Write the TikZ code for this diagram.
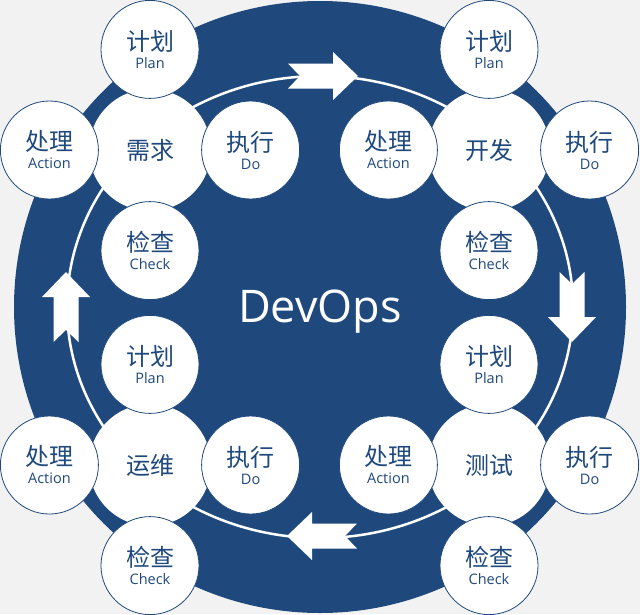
\documentclass[tikz,border=0pt]{standalone}
\usepackage{fontspec}
\setmainfont{Open Sans}
\newfontfamily\cjk{Noto Sans CJK SC}
\usepackage{tikz}
\usetikzlibrary{positioning}
\definecolor{devblue}{HTML}{1F497D}
\definecolor{bggray}{HTML}{F2F2F2}

\begin{document}
\begin{tikzpicture}[
    x=1pt, y=-1pt,
    node distance=-10pt,
    hub/.style={circle, fill=white, minimum size=122pt, inner sep=0pt, font=\cjk\fontsize{24}{28}\selectfont, text=devblue},
    petal/.style={circle, draw=devblue, line width=0.8pt, fill=white, minimum size=98pt, inner sep=0pt, align=center, font=\fontsize{14.5}{18}\selectfont, text=devblue},
    flow/.style={fill=white}
]
\useasboundingbox (0,0) rectangle (640,614);
\fill[bggray] (0,0) rectangle (640,614);
\fill[devblue] (320,307) circle[radius=306pt];
\draw[white, line width=2.5pt] (320,307) ellipse[x radius=253pt, y radius=231pt];

% arrows round the ring
\fill[flow, shift={(323,76)}] (-35,-12.5) -- (10,-12.5) -- (10,-24) -- (35,0) -- (10,24) -- (10,12.5) -- (-35,12.5) -- (-23,0) -- cycle;
\fill[flow, shift={(572,307)}, rotate=-90] (-35,-12.5) -- (10,-12.5) -- (10,-24) -- (35,0) -- (10,24) -- (10,12.5) -- (-35,12.5) -- (-23,0) -- cycle;
\fill[flow, shift={(322,536)}, rotate=180] (-35,-12.5) -- (10,-12.5) -- (10,-24) -- (35,0) -- (10,24) -- (10,12.5) -- (-35,12.5) -- (-23,0) -- cycle;
\fill[flow, shift={(66,307)}, rotate=90] (-35,-12.5) -- (10,-12.5) -- (10,-24) -- (35,0) -- (10,24) -- (10,12.5) -- (-35,12.5) -- (-23,0) -- cycle;

\node[white, font=\fontsize{45}{50}\selectfont] (title) at (320,312) {DevOps};

% requirement
\node[hub] (req) at (150,150) {需求};
\node[petal, above=of req] (reqplan) {{\cjk\fontsize{24}{18}\selectfont 计划}\\Plan};
\node[petal, right=of req] (reqdo) {{\cjk\fontsize{24}{18}\selectfont 执行}\\Do};
\node[petal, below=of req] (reqcheck) {{\cjk\fontsize{24}{18}\selectfont 检查}\\Check};
\node[petal, left=of req] (reqact) {{\cjk\fontsize{24}{18}\selectfont 处理}\\Action};

% development
\node[hub] (dev) at (489,150) {开发};
\node[petal, above=of dev] (devplan) {{\cjk\fontsize{24}{18}\selectfont 计划}\\Plan};
\node[petal, right=of dev] (devdo) {{\cjk\fontsize{24}{18}\selectfont 执行}\\Do};
\node[petal, below=of dev] (devcheck) {{\cjk\fontsize{24}{18}\selectfont 检查}\\Check};
\node[petal, left=of dev] (devact) {{\cjk\fontsize{24}{18}\selectfont 处理}\\Action};

% testing
\node[hub] (test) at (489,465) {测试};
\node[petal, above=of test] (testplan) {{\cjk\fontsize{24}{18}\selectfont 计划}\\Plan};
\node[petal, right=of test] (testdo) {{\cjk\fontsize{24}{18}\selectfont 执行}\\Do};
\node[petal, below=of test] (testcheck) {{\cjk\fontsize{24}{18}\selectfont 检查}\\Check};
\node[petal, left=of test] (testact) {{\cjk\fontsize{24}{18}\selectfont 处理}\\Action};

% operations
\node[hub] (ops) at (150,465) {运维};
\node[petal, above=of ops] (opsplan) {{\cjk\fontsize{24}{18}\selectfont 计划}\\Plan};
\node[petal, right=of ops] (opsdo) {{\cjk\fontsize{24}{18}\selectfont 执行}\\Do};
\node[petal, below=of ops] (opscheck) {{\cjk\fontsize{24}{18}\selectfont 检查}\\Check};
\node[petal, left=of ops] (opsact) {{\cjk\fontsize{24}{18}\selectfont 处理}\\Action};
\end{tikzpicture}
\end{document}
